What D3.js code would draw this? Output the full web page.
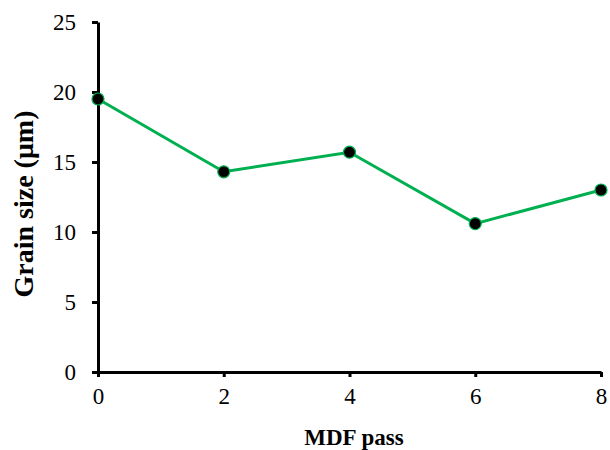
<!DOCTYPE html>
<meta charset="utf-8">
<html>
<body style="margin:0;background:#fff">
<div id="chart"></div>
<script src="https://d3js.org/d3.v7.min.js"></script>
<script>
// MDF pass vs grain size
var passes = [0, 2, 4, 6, 8];
var grainSize = [19.5, 14.3, 15.7, 10.6, 13.0];
var xTicks = [0, 2, 4, 6, 8];
var yTicks = [0, 5, 10, 15, 20, 25];

var W = 610, H = 450;
var m = {left: 98, right: 9, top: 22, bottom: 78};

var svg = d3.select("#chart").append("svg")
  .attr("width", W).attr("height", H)
  .style("font-family", "Liberation Serif");

var x = d3.scaleLinear().domain([0, 8]).range([m.left, W - m.right]);
var y = d3.scaleLinear().domain([0, 25]).range([H - m.bottom, m.top]);

var font = "Liberation Serif";

// y axis
var yAxis = svg.append("g")
  .attr("transform", "translate(" + m.left + ",0)")
  .call(d3.axisLeft(y).tickValues(yTicks).tickSize(6).tickPadding(16).tickSizeOuter(0));
// x axis
var xAxis = svg.append("g")
  .attr("transform", "translate(0," + (H - m.bottom) + ")")
  .call(d3.axisBottom(x).tickValues(xTicks).tickSize(5).tickPadding(11).tickSizeOuter(0));

[xAxis, yAxis].forEach(function (a) {
  a.attr("font-family", font).attr("font-size", 23);
  a.select(".domain").attr("stroke", "#000").attr("stroke-width", 3);
  a.selectAll(".tick line").attr("stroke", "#000").attr("stroke-width", 3);
  a.selectAll(".tick text").attr("fill", "#000");
});

// line
var line = d3.line()
  .x(function (d, i) { return x(passes[i]); })
  .y(function (d) { return y(d); });

svg.append("path")
  .datum(grainSize)
  .attr("d", line)
  .attr("fill", "none")
  .attr("stroke", "#00B050")
  .attr("stroke-width", 3);

svg.selectAll("circle.pt")
  .data(grainSize)
  .enter()
  .append("circle")
  .attr("class", "pt")
  .attr("cx", function (d, i) { return x(passes[i]); })
  .attr("cy", function (d) { return y(d); })
  .attr("r", 6)
  .attr("fill", "#000")
  .attr("stroke", "#00B050")
  .attr("stroke-width", 1.2);

// axis titles
svg.append("text")
  .attr("x", 354)
  .attr("y", 445)
  .attr("text-anchor", "middle")
  .attr("font-family", font)
  .attr("font-size", 23)
  .attr("font-weight", "bold")
  .text("MDF pass");

svg.append("text")
  .attr("transform", "translate(33,204) rotate(-90)")
  .attr("text-anchor", "middle")
  .attr("font-family", font)
  .attr("font-size", 28)
  .attr("font-weight", "bold")
  .text("Grain size (μm)");
</script>
</body>
</html>
